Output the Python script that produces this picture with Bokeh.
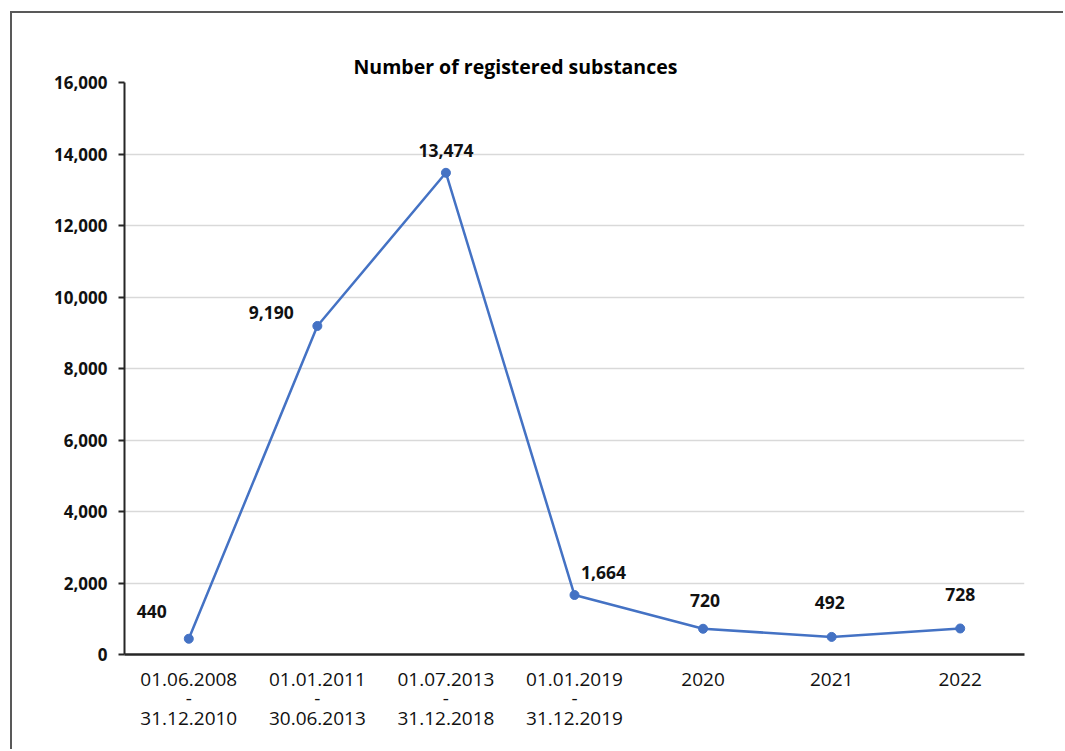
from bokeh.plotting import figure
from bokeh.models import ColumnDataSource, FixedTicker, NumeralTickFormatter, FactorRange, Range1d
from bokeh.core.properties import value
from bokeh.embed import file_html
from bokeh.resources import INLINE

# ---- data ----
categories = ["01.06.2008\n-\n31.12.2010", "01.01.2011\n-\n30.06.2013",
              "01.07.2013\n-\n31.12.2018", "01.01.2019\n-\n31.12.2019",
              "2020", "2021", "2022"]
registered = [440, 9190, 13474, 1664, 720, 492, 728]
value_labels = ["440", "9,190", "13,474", "1,664", "720", "492", "728"]
y_ticks = [0, 2000, 4000, 6000, 8000, 10000, 12000, 14000, 16000]

# label offsets (style, screen px)
label_dx = [-37, -46, 0, 29, 2, -2, 0]
label_dy = [-27, -13, -22, -23, -28, -34, -34]

FONT = "Open Sans"
LINE_COLOR = "#4472C4"

src = ColumnDataSource(dict(x=categories, y=registered, t=value_labels,
                            dx=label_dx, dy=label_dy))

p = figure(width=1053, height=738,
           x_range=FactorRange(*categories, range_padding=0),
           y_range=Range1d(0, 16000),
           output_backend="svg", toolbar_location=None,
           min_border_left=112, min_border_right=41,
           min_border_top=69, min_border_bottom=97)
p.margin = (11, 0, 0, 10)
p.styles = {"border-top": "2px solid #595959", "border-left": "2px solid #595959"}

p.title.text = "Number of registered substances"
p.title.text_font = FONT
p.title.text_font_size = "19.5px"
p.title.text_font_style = "bold"
p.title.text_color = "#000000"
p.title.align = "left"
p.title.offset = 229
p.title.standoff = 5

p.outline_line_color = None
p.background_fill_color = "white"
p.border_fill_color = "white"

# grid
p.xgrid.grid_line_color = None
p.ygrid.grid_line_color = "#d9d9d9"
p.ygrid.grid_line_width = 1.5

# y axis
p.yaxis.ticker = FixedTicker(ticks=y_ticks)
p.yaxis.formatter = NumeralTickFormatter(format="0,0")
p.yaxis.axis_line_color = "#262626"
p.yaxis.axis_line_width = 2
p.yaxis.major_tick_line_color = "#262626"
p.yaxis.major_tick_line_width = 2
p.yaxis.major_tick_out = 6
p.yaxis.major_tick_in = 0
p.yaxis.minor_tick_line_color = None
p.yaxis.major_label_text_font = FONT
p.yaxis.major_label_text_font_size = "17px"
p.yaxis.major_label_text_font_style = "bold"
p.yaxis.major_label_text_color = "#111111"
p.yaxis.major_label_standoff = 11

# x axis
p.xaxis.axis_line_color = "#262626"
p.xaxis.axis_line_width = 2.5
p.xaxis.major_tick_line_color = None
p.xaxis.major_tick_out = 0
p.xaxis.major_tick_in = 0
p.xaxis.minor_tick_line_color = None
p.xaxis.major_label_text_font = FONT
p.xaxis.major_label_text_font_size = "19px"
p.xaxis.major_label_text_color = "#111111"
p.xaxis.major_label_standoff = 11
p.xaxis.major_label_text_line_height = 0.75

# series
p.line("x", "y", source=src, line_color=LINE_COLOR, line_width=2.5)
p.scatter("x", "y", source=src, size=9, fill_color=LINE_COLOR, line_color=LINE_COLOR)
p.text("x", "y", text="t", source=src, x_offset="dx", y_offset="dy",
       text_font=value(FONT), text_font_size="17.5px", text_font_style="bold",
       text_align="center", text_baseline="middle", text_color="#111111")

open("out.html", "w").write(file_html(p, INLINE))
